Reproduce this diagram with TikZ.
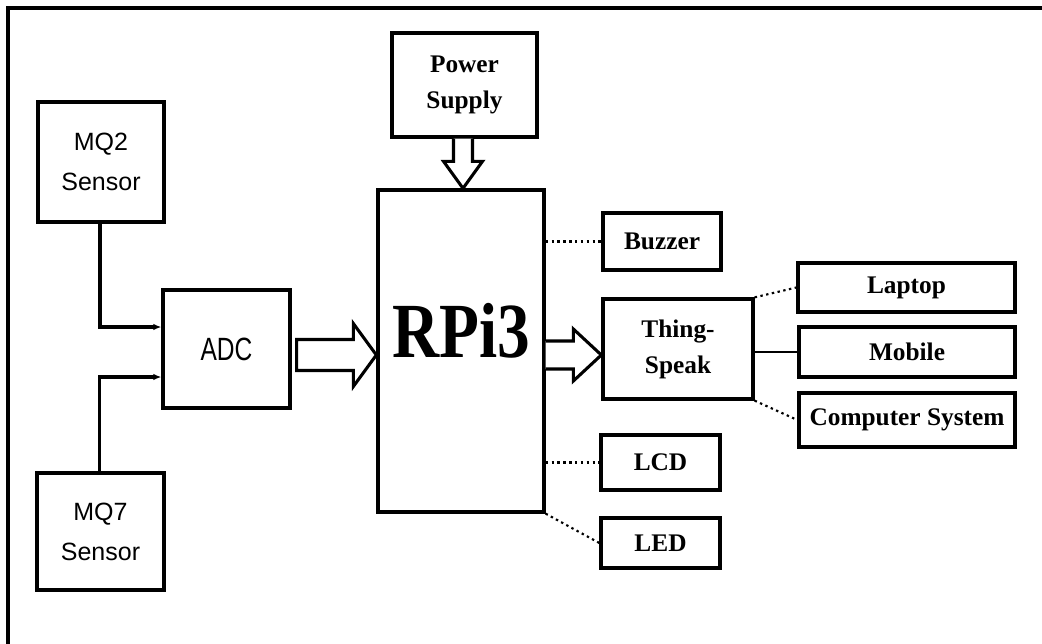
\documentclass[tikz,border=0pt]{standalone}
\usepackage{fontspec}
\setmainfont{Liberation Serif}
\setsansfont{Liberation Sans}
\usetikzlibrary{calc,arrows.meta}
\tikzset{
  box/.style={draw, line width=2.5pt, inner sep=0pt, align=center},
  sanslbl/.style={font=\sffamily\fontsize{18.75}{30}\selectfont},
  serlbl/.style={font=\bfseries\fontsize{19}{27}\selectfont},
  wire/.style={draw, line width=2.4pt},
  dotln/.style={line width=1.6pt, dash pattern=on 1.8pt off 2.6pt},
  harrow/.style={line width=2.3pt, line join=miter, fill=white},
  frame/.style={line width=2.4pt}
}
\newcommand{\bx}[7][]{%
  \node[box,#1, minimum width={(#5-#3)*0.75pt}, minimum height={(#6-#4)*0.75pt}]
    (#2) at ({(#3+#5)/2},{(#4+#6)/2}) {#7};}
\begin{document}
\begin{tikzpicture}[x=0.75pt,y=-0.75pt]
\useasboundingbox (0,0) rectangle (1042,643);
\draw[frame] (8,645) -- (8,8) -- (1045,8);

\bx[sanslbl]{mq2}{38}{102}{164}{222}{MQ2\\Sensor}
\bx[sanslbl]{mq7}{37}{473}{164}{590}{MQ7\\Sensor}
\bx[sanslbl]{adc}{163}{290}{290}{408}{\fontsize{23}{23}\selectfont\scalebox{0.8}[1.05]{ADC}}
\bx[serlbl]{ps}{392}{33}{537}{137}{Power\\Supply}
\bx{rpi}{378}{190}{544}{512}{}
\node (rpitxt) at (461,331) {\bfseries\fontsize{48}{48}\selectfont\scalebox{1.02}[1.22]{RPi3}};
\bx[serlbl]{buz}{603}{213}{721}{270}{Buzzer}
\bx[serlbl]{ts}{603}{299}{753}{399}{Thing-\\Speak}
\bx[serlbl]{lcd}{601}{435}{720}{490}{LCD}
\bx[serlbl]{led}{601}{518}{720}{568}{LED}
\bx[serlbl]{lap}{798}{263}{1015}{312}{Laptop}
\bx[serlbl]{mob}{799}{327}{1015}{377}{Mobile}
\bx[serlbl]{cs}{799}{393}{1015}{447}{Computer System}

% sensor connectors
\path[wire,-{Latex[length=6pt,width=5pt]}] ($(mq2.south)+(-1,0)$) |- ($(adc.west)+(0,-22)$);
\path[wire,-{Latex[length=6pt,width=5pt]}] ($(mq7.north)+(-1,0)$) |- ($(adc.west)+(0,28)$);

% hollow arrows
\coordinate (a1s) at ($(adc.east)+(5,6)$);
\coordinate (a1t) at (rpi.west |- a1s);
\draw[harrow] ($(a1s)+(0,-15.5)$) -- ($(a1t)+(-23,-15.5)$) -- ($(a1t)+(-23,-31.5)$) -- (a1t)
  -- ($(a1t)+(-23,31.5)$) -- ($(a1t)+(-23,15.5)$) -- ($(a1s)+(0,15.5)$) -- cycle;

\coordinate (a2s) at ($(rpi.east)+(0,4)$);
\coordinate (a2t) at (ts.west |- a2s);
\draw[harrow] ($(a2s)+(0,-14)$) -- ($(a2t)+(-28,-14)$) -- ($(a2t)+(-28,-26)$) -- (a2t)
  -- ($(a2t)+(-28,26)$) -- ($(a2t)+(-28,14)$) -- ($(a2s)+(0,14)$);

\coordinate (a3s) at ($(ps.south)+(-1.5,0)$);
\coordinate (a3t) at (a3s |- rpi.north);
\draw[harrow] ($(a3s)+(-9.5,0)$) -- ($(a3t)+(-9.5,-27)$) -- ($(a3t)+(-19.5,-27)$) -- (a3t)
  -- ($(a3t)+(19.5,-27)$) -- ($(a3t)+(9.5,-27)$) -- ($(a3s)+(9.5,0)$);

% dotted links
\draw[dotln] (rpi.east |- buz.west) -- (buz.west);
\draw[dotln] (rpi.east |- lcd.west) -- (lcd.west);
\draw[dotln] (rpi.south east) -- (led.west);
\draw[dotln] (ts.north east) -- (lap.west);
\path[wire, line width=1.9pt] (ts.east |- mob.west) -- (mob.west);
\draw[dotln] (ts.south east) -- (cs.west);
\end{tikzpicture}
\end{document}
